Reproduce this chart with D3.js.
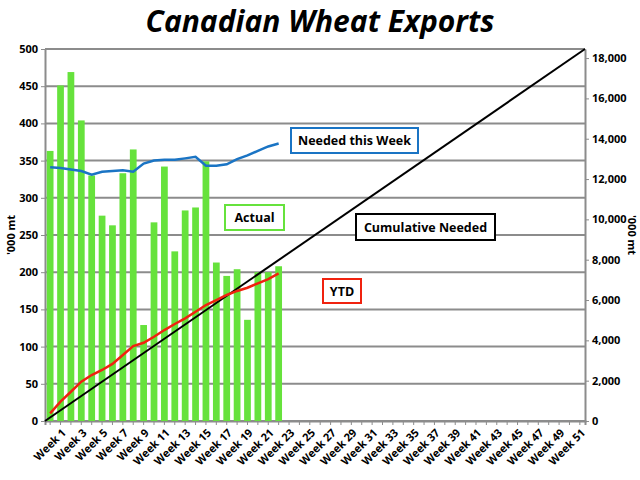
<!DOCTYPE html>
<html><head><meta charset="utf-8">
<script src="https://cdn.jsdelivr.net/npm/d3@7"></script>
<style>body{margin:0;background:#fff}text{font-family:"Open Sans",sans-serif}</style>
</head><body><svg id="c" width="640" height="480"></svg>
<script>
const weeks = d3.range(1,53).map(i=>"Week "+i);
const actual = [363,451,469,404,330,276,263,333,365,129,267,342,228,283,287,349,213,195,204,136,200,200,208];
const needed = [341,340,338,336,331,335,336,337,335,346,350,351,351,353,355,343,343,345,352,357,363,369,373];
const ytd = [380,960,1450,1950,2280,2530,2830,3270,3720,3880,4180,4510,4810,5090,5420,5750,6000,6250,6450,6610,6830,7040,7320];
const cumNeeded = [0,18450];
const leftTicks = d3.range(0,501,50);
const rightTicks = d3.range(0,18001,2000);

const svg=d3.select("#c");
const L=45,R=585,T=49,B=421;
const x=d3.scaleBand().domain(weeks).range([L,R]).paddingInner(0.35).paddingOuter(0.17);
const xe=d3.scaleLinear().domain([0,52]).range([L,R]);
const y=d3.scaleLinear().domain([0,500]).range([B,T]);
const y2=d3.scaleLinear().domain([0,18450]).range([B,T]);

svg.append("text").attr("x",320).attr("y",32).attr("text-anchor","middle")
 .attr("font-size",30).attr("font-weight","bold").attr("font-style","italic").text("Canadian Wheat Exports");

svg.append("g").selectAll("line").data(leftTicks).join("line")
 .attr("x1",L).attr("x2",R).attr("y1",d=>y(d)).attr("y2",d=>y(d)).attr("stroke","#8c8c8c").attr("stroke-width",2);

const ga=svg.append("g").attr("transform",`translate(${L},0)`).call(d3.axisLeft(y).tickValues(leftTicks).tickSize(4));
ga.selectAll("text").attr("font-size",11).attr("font-weight","bold").attr("font-family","Open Sans");
ga.select(".domain").attr("stroke","#8c8c8c").attr("stroke-width",2);ga.selectAll(".tick line").attr("stroke","#8c8c8c");
const gb=svg.append("g").attr("transform",`translate(${R},0)`).call(d3.axisRight(y2).tickValues(rightTicks).tickSize(4));
gb.selectAll("text").attr("font-size",11).attr("font-weight","bold").attr("font-family","Open Sans");
gb.select(".domain").attr("stroke","#8c8c8c").attr("stroke-width",2);gb.selectAll(".tick line").attr("stroke","#8c8c8c");
svg.selectAll(".domain").attr("d",function(){return d3.select(this).attr("d").replace(/^M[-\d.]+,/, "M0,").replace(/H[-\d.]+$/,"");});

const gx=svg.append("g").attr("transform",`translate(0,${B})`).call(d3.axisBottom(x).tickSize(4).tickFormat((d,i)=>i%2==0?d:""));
gx.select(".domain").attr("stroke","#8c8c8c").attr("stroke-width",2);gx.selectAll(".tick line").attr("stroke","#8c8c8c");
gx.selectAll("text").attr("font-size",11).attr("font-weight","bold").attr("font-family","Open Sans")
 .attr("text-anchor","end").attr("transform","translate(6,2) rotate(-45)");

svg.append("g").selectAll("rect").data(actual).join("rect")
 .attr("x",(d,i)=>x(weeks[i])).attr("width",x.bandwidth()).attr("y",d=>y(d)).attr("height",d=>B-y(d)).attr("fill","#66e23c");

svg.append("path").datum(cumNeeded).attr("fill","none").attr("stroke","#000").attr("stroke-width",2)
 .attr("d",d3.line().x((d,i)=>xe(i*52)).y(d=>y2(d)));
const cx=(d,i)=>x(weeks[i])+x.bandwidth()/2;
svg.append("path").datum(needed).attr("fill","none").attr("stroke","#1a74c4").attr("stroke-width",2.5)
 .attr("d",d3.line().x(cx).y(d=>y(d)));
svg.append("path").datum(ytd).attr("fill","none").attr("stroke","#f0220f").attr("stroke-width",2.5)
 .attr("d",d3.line().x(cx).y(d=>y2(d)));

function box(x0,y0,w,h,c,t){svg.append("rect").attr("x",x0).attr("y",y0).attr("width",w).attr("height",h).attr("fill","#fff").attr("stroke",c).attr("stroke-width",2);
 svg.append("text").attr("x",x0+w/2).attr("y",y0+h/2+4.5).attr("text-anchor","middle").attr("font-size",12.5).attr("font-weight","bold").text(t);}
box(291,128,127,25,"#1a74c4","Needed this Week");
box(225,205,59,25,"#66e23c","Actual");
box(356,214,139,26,"#000","Cumulative Needed");
box(323,279,38,24,"#f0220f","YTD");

svg.append("text").attr("transform","translate(15,235) rotate(-90)").attr("text-anchor","middle").attr("font-size",11).attr("font-weight","bold").text("'000 mt");
svg.append("text").attr("transform","translate(628,235) rotate(90)").attr("text-anchor","middle").attr("font-size",11).attr("font-weight","bold").text("'000 mt");
</script></body></html>
